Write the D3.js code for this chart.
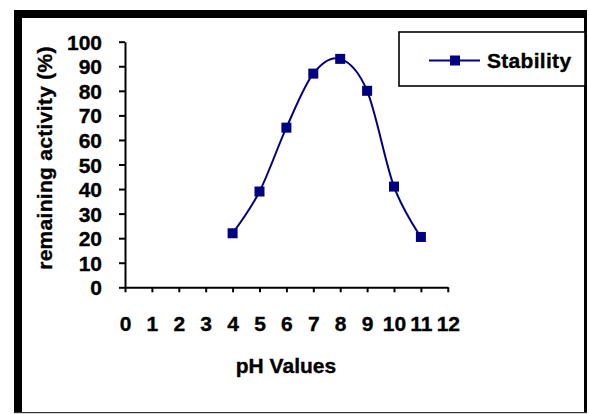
<!DOCTYPE html>
<html>
<head>
<meta charset="utf-8">
<script src="https://cdn.jsdelivr.net/npm/d3@7"></script>
<style>
  html, body { margin: 0; padding: 0; background: #fff; }
  svg { display: block; }
  text { font-family: "Liberation Sans", Arial, sans-serif; font-weight: bold; fill: #000; stroke: #000; stroke-width: 0.35px; }
</style>
</head>
<body>
<svg id="chart" width="589" height="414"></svg>
<script>
// ---- data ----
const phValues = [4, 5, 6, 7, 8, 9, 10, 11];
const stability = [22, 39, 65, 87, 93, 80, 41, 20.5];
const xTicks = [0, 1, 2, 3, 4, 5, 6, 7, 8, 9, 10, 11, 12];
const yTicks = [0, 10, 20, 30, 40, 50, 60, 70, 80, 90, 100];
const seriesName = "Stability";
const xTitle = "pH Values";
const yTitle = "remaining activity (%)";

const svg = d3.select("#chart");
const navy = "#000080";

// frame
svg.append("rect").attr("x", 14).attr("y", 10).attr("width", 573).attr("height", 403).attr("fill", "#fff");
svg.append("rect").attr("x", 14).attr("y", 10).attr("width", 573).attr("height", 8).attr("fill", "#000");
svg.append("rect").attr("x", 14).attr("y", 10).attr("width", 8).attr("height", 403).attr("fill", "#000");
svg.append("rect").attr("x", 584).attr("y", 10).attr("width", 3).attr("height", 403).attr("fill", "#000");
svg.append("rect").attr("x", 14).attr("y", 412).attr("width", 573).attr("height", 1.2).attr("fill", "#333");

const x = d3.scaleLinear().domain([0, 12]).range([125, 447.8]);
const y = d3.scaleLinear().domain([0, 100]).range([287.3, 41.7]);

// axes
const yAxis = svg.append("g").attr("transform", `translate(${x(0)},0)`)
  .call(d3.axisLeft(y).tickValues(yTicks).tickSize(6).tickPadding(17).tickSizeOuter(0));
const xAxis = svg.append("g").attr("transform", `translate(0,${y(0)})`)
  .call(d3.axisBottom(x).tickValues(xTicks).tickSize(5).tickPadding(24).tickSizeOuter(0));

[yAxis, xAxis].forEach(g => {
  g.selectAll("path, line").attr("stroke", "#000").attr("stroke-width", 2);
  g.selectAll("text").style("font-size", "21px").style("font-family", "'Liberation Sans', Arial, sans-serif")
    .style("font-weight", "bold").attr("fill", "#000").attr("stroke", "#000").attr("stroke-width", 0.35);
});
yAxis.selectAll("text").attr("dy", "0.36em");

// titles
svg.append("text").attr("x", 286).attr("y", 373).attr("text-anchor", "middle")
  .style("font-size", "21px").text(xTitle);
svg.append("text").attr("transform", "translate(52,158) rotate(-90)").attr("text-anchor", "middle")
  .style("font-size", "21px").style("letter-spacing", "0.3px").text(yTitle);

// series line
const pts = phValues.map((p, i) => [p, stability[i]]);
const line = d3.line().x(d => x(d[0])).y(d => y(d[1])).curve(d3.curveCatmullRom.alpha(0));
svg.append("path").datum(pts).attr("d", line).attr("fill", "none")
  .attr("stroke", navy).attr("stroke-width", 2);
svg.append("g").selectAll("rect").data(pts).join("rect")
  .attr("x", d => x(d[0]) - 5).attr("y", d => y(d[1]) - 5)
  .attr("width", 10).attr("height", 10).attr("fill", navy);

// legend
svg.append("rect").attr("x", 399).attr("y", 32).attr("width", 186).attr("height", 54)
  .attr("fill", "#fff").attr("stroke", "#000").attr("stroke-width", 1.6);
svg.append("line").attr("x1", 429).attr("x2", 480).attr("y1", 60.5).attr("y2", 60.5)
  .attr("stroke", navy).attr("stroke-width", 2);
svg.append("rect").attr("x", 450).attr("y", 55.5).attr("width", 10).attr("height", 10).attr("fill", navy);
svg.append("text").attr("x", 487).attr("y", 67.5)
  .style("font-size", "21px").style("letter-spacing", "0.3px").text(seriesName);
</script>
</body>
</html>
